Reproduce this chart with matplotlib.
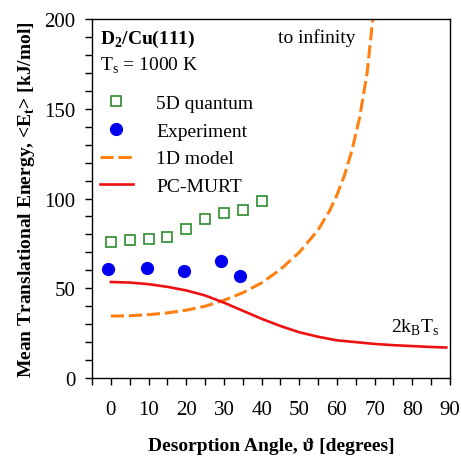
import matplotlib
matplotlib.use("Agg")
import matplotlib.pyplot as plt
from matplotlib.ticker import MultipleLocator

plt.rcParams['font.family'] = ['Liberation Serif', 'DejaVu Serif']
plt.rcParams['mathtext.fontset'] = 'custom'
plt.rcParams['mathtext.rm'] = 'Liberation Serif'
plt.rcParams['mathtext.bf'] = 'Liberation Serif:bold'

# 5D quantum (open squares)
quantum_angle = [0, 5, 10, 15, 20, 25, 30, 35, 40]
quantum_energy = [76, 77, 77.5, 78.5, 83, 88.5, 92, 93.5, 98.5]

# experiment (filled circles)
exp_angle = [-0.7, 9.5, 19.3, 29.2, 34.3]
exp_energy = [61, 61.5, 59.8, 65, 57]

# 1D model (dashed)
model_angle = [0, 5, 10, 15, 20, 25, 30, 35, 40, 45, 50, 55, 58, 60, 62, 64, 66, 68, 69.5, 70.5]
model_energy = [34.5, 34.7, 35.3, 36.3, 37.8, 40, 43.3, 47.5, 53, 60.5, 70, 82.5, 93, 102, 113,
                127, 145, 170, 200, 220]

# PC-MURT (solid)
murt_angle = [0, 5, 10, 15, 20, 25, 30, 35, 40, 45, 50, 55, 60, 65, 70, 75, 80, 85, 89]
murt_energy = [53.5, 53.2, 52.3, 50.8, 48.8, 46, 42, 37.5, 33, 29, 25.5, 23, 21, 20, 19,
               18.3, 17.8, 17.3, 17]

fig = plt.figure(figsize=(4.61, 4.60), dpi=100)
ax = fig.add_axes([0.1996, 0.176, 0.7766, 0.7805])

ax.plot(quantum_angle, quantum_energy, 's', mfc='none', mec='#2e8b2e', mew=1.2, ms=7,
        label='5D quantum')
ax.plot(exp_angle, exp_energy, 'o', color='#0000ee', ms=8.5, label='Experiment')
ax.plot(model_angle, model_energy, color='#ff8010', lw=2.2, dashes=(4.3, 1.6),
        label='1D model')
ax.plot(murt_angle, murt_energy, color='#ee1111', lw=1.9, label='PC-MURT')

ax.set_xlim(-5, 90)
ax.set_ylim(0, 200)
ax.xaxis.set_major_locator(MultipleLocator(10))
ax.xaxis.set_minor_locator(MultipleLocator(5))
ax.yaxis.set_major_locator(MultipleLocator(50))
ax.yaxis.set_minor_locator(MultipleLocator(10))
ax.tick_params(which='both', direction='out', length=5, width=1, labelsize=15)
ax.tick_params(axis='x', pad=11)
ax.tick_params(axis='y', pad=7)
for s in ax.spines.values():
    s.set_linewidth(1)

ax.set_xlabel(r'Desorption Angle, ϑ [degrees]', fontsize=14, fontweight='bold', labelpad=13)
ax.set_ylabel(r'Mean Translational Energy, <E$_\mathbf{t}$> [kJ/mol]', fontsize=14,
              fontweight='bold', labelpad=5)

ax.text(0.022, 0.945, r'D$_\mathbf{2}$/Cu(111)', transform=ax.transAxes, fontsize=14,
        fontweight='bold', va='center')
ax.text(0.022, 0.872, r'T$_\mathrm{s}$ = 1000 K', transform=ax.transAxes, fontsize=14,
        va='center')
ax.text(0.52, 0.95, 'to infinity', transform=ax.transAxes, fontsize=14, va='center')
ax.text(0.835, 0.143, r'2k$_\mathrm{B}$T$_\mathrm{s}$', transform=ax.transAxes, fontsize=14,
        va='center')

ax.legend(loc='upper left', bbox_to_anchor=(0.022, 0.79), frameon=False, fontsize=14,
          borderpad=0, handlelength=1.7, handletextpad=1.2, labelspacing=0.52,
          borderaxespad=0)

fig.savefig('out.png', dpi=100)
